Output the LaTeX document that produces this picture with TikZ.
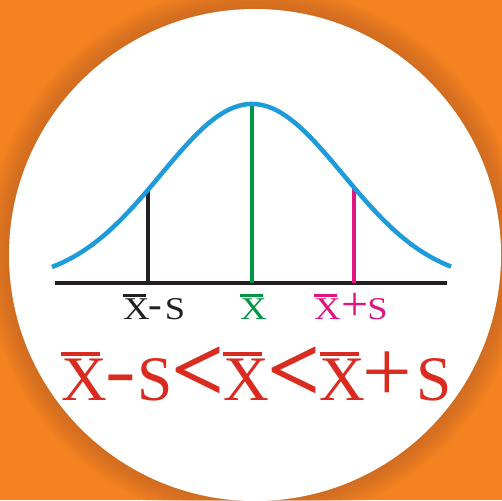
\documentclass[tikz,border=0pt]{standalone}
\usepackage{fontspec}
\setmainfont{Liberation Serif}
\usepackage{graphicx}
\definecolor{bgorange}{HTML}{F58220}
\definecolor{shadoworange}{HTML}{B8602A}
\definecolor{curveblue}{HTML}{1D9BDB}
\definecolor{meangreen}{HTML}{009444}
\definecolor{pinkline}{HTML}{E0157F}
\definecolor{formred}{HTML}{D92B20}
\definecolor{inkblack}{HTML}{231F20}
% X with overline: #1 = rule thickness
\newcommand{\xbr}[1]{\makebox[0pt][l]{\raisebox{0.7em}{\rule{0.62em}{#1}}}X}
\tikzset{
  stem/.style={line width=4pt},
  glyph/.style={inner sep=0pt, anchor=base},
  lbl/.style={glyph, font=\fontsize{31.7}{36}\selectfont},
  big/.style={glyph, text=formred, font=\fontsize{63.4}{70}\selectfont}
}
\begin{document}
\begin{tikzpicture}[x=1pt,y=-1pt]
\useasboundingbox (0,0) rectangle (502,500);
\fill[bgorange] (0,0) rectangle (502,500);
\foreach \i in {0,...,11}{
  \fill[shadoworange, opacity=0.06] (255,255) circle ({246+24-2*\i});
}
\fill[white] (255,255) circle (246);
% axis
\coordinate (axL) at (55,283);
\coordinate (axR) at (447,283);
\draw[inkblack, line width=4pt] (axL) -- (axR);
% stems
\coordinate (bB) at (148,283); \coordinate (bT) at (148,189);
\coordinate (gB) at (252,283); \coordinate (gT) at (252,104);
\coordinate (pB) at (354,283); \coordinate (pT) at (354,189);
\draw[stem, inkblack] (bB) -- (bT);
\draw[stem, meangreen] (gB) -- (gT);
\draw[stem, pinkline] (pB) -- (pT);
% curve
\draw[curveblue, line width=4.5pt] plot[domain=-200:199, samples=160, smooth]
  ({252+\x},{283-179*exp(-(\x/100)*(\x/100)/1.6562)});
% axis labels
\node[lbl, text=inkblack] (l1x) at (136.5,319) {\scalebox{1.15}[1]{\xbr{0.09em}}};
\node[lbl, text=inkblack] (l1m) at (155,316) {\scalebox{1.3}[1.1]{\textbf{-}}};
\node[lbl, text=inkblack] (l1s) at (175,319) {\scalebox{1.15}[1]{S}};
\node[lbl, text=meangreen] (l2x) at (253.5,319) {\scalebox{1.15}[1]{\xbr{0.09em}}};
\node[lbl, text=pinkline] (l3x) at (327.5,319) {\scalebox{1.15}[1]{\xbr{0.09em}}};
\node[glyph, text=pinkline, font=\fontsize{48}{52}\selectfont] (l3p) at (355.5,320) {+};
\node[lbl, text=pinkline] (l3s) at (377.5,319) {\scalebox{1.15}[1]{S}};
% formula
\node[big] (f1) at (84,400) {\xbr{0.055em}};
\node[big] (f2) at (121,393) {\scalebox{1.45}[1.05]{\textbf{-}}};
\node[big] (f3) at (155.5,400) {S};
\node[glyph, text=formred, font=\fontsize{94}{96}\selectfont\bfseries] (f4) at (198,401) {<};
\node[big] (f5) at (246,400) {\xbr{0.055em}};
\node[glyph, text=formred, font=\fontsize{94}{96}\selectfont\bfseries] (f6) at (294,401) {<};
\node[big] (f7) at (342.5,400) {\xbr{0.055em}};
\node[glyph, text=formred, font=\fontsize{88}{92}\selectfont] (f8) at (387,401) {+};
\node[big] (f9) at (434,400) {S};
\end{tikzpicture}
\end{document}
